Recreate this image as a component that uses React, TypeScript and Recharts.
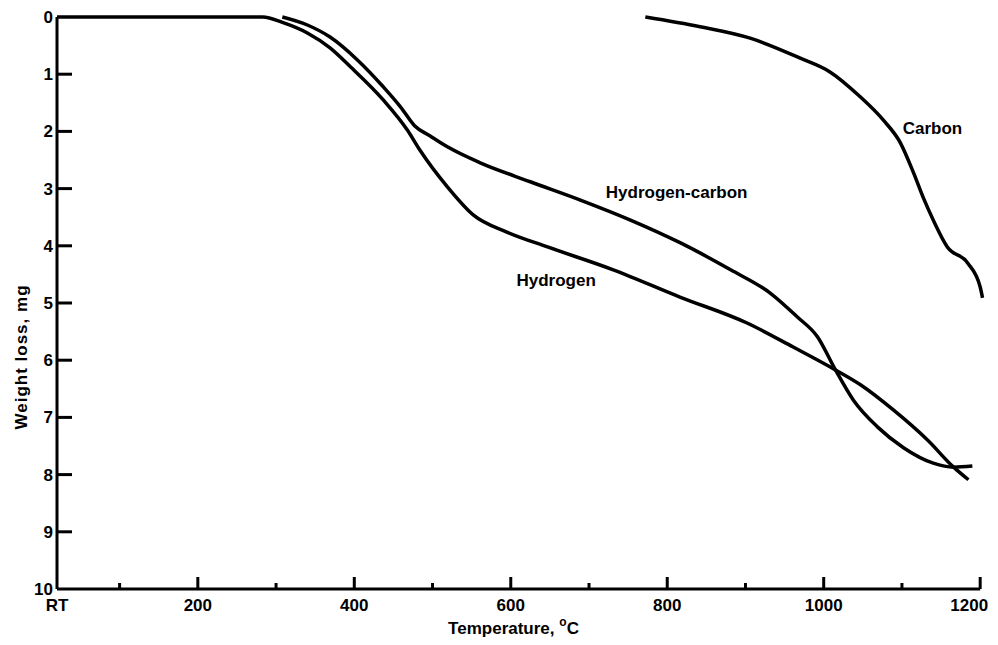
import { LineChart, Line, XAxis, YAxis, ReferenceLine, ReferenceDot, Label } from "recharts";

// temperature (°C) vs weight loss (mg)
const hydrogenTemp = [20, 283, 309, 340, 369, 395, 437, 468, 484, 519, 552, 595, 647, 731, 817, 902, 961, 1015, 1047, 1089, 1133, 1166, 1185];
const hydrogenLoss = [0, 0, 0.1, 0.28, 0.54, 0.87, 1.45, 1.98, 2.33, 2.97, 3.46, 3.76, 4.02, 4.42, 4.9, 5.35, 5.77, 6.17, 6.43, 6.87, 7.4, 7.87, 8.09];

const hcTemp = [308, 340, 369, 404, 437, 459, 477, 497, 519, 561, 625, 689, 753, 817, 881, 932, 966, 992, 1015, 1038, 1069, 1102, 1140, 1166, 1190];
const hcLoss = [0, 0.14, 0.35, 0.75, 1.22, 1.57, 1.9, 2.08, 2.27, 2.55, 2.88, 3.2, 3.55, 3.95, 4.42, 4.83, 5.24, 5.59, 6.17, 6.7, 7.17, 7.53, 7.8, 7.87, 7.85];

const carbonTemp = [772, 842, 906, 970, 1008, 1047, 1076, 1098, 1115, 1127, 1140, 1158, 1184, 1200, 1203];
const carbonLoss = [0, 0.17, 0.37, 0.72, 0.96, 1.4, 1.8, 2.2, 2.73, 3.15, 3.55, 4.02, 4.3, 4.72, 4.91];

const xTicks = [20, 100, 200, 300, 400, 500, 600, 700, 800, 900, 1000, 1100, 1200];
const yTicks = [0, 1, 2, 3, 4, 5, 6, 7, 8, 9, 10];

const curveLabels = ["Hydrogen", "Hydrogen-carbon", "Carbon"];
const labelTemp = [658, 812, 1139];
const labelLoss = [4.6, 3.06, 1.94];

const zip = (t: number[], w: number[]) => t.map((temp, i) => ({ temp, loss: w[i] }));
const hydrogen = zip(hydrogenTemp, hydrogenLoss);
const hydrogenCarbon = zip(hcTemp, hcLoss);
const carbon = zip(carbonTemp, carbonLoss);

const FONT = "'Liberation Sans', Arial, sans-serif";

const XTick = ({ x, y, payload }: any) => {
  const v = payload.value;
  const major = v % 200 === 0;
  const label = v === 20 ? "RT" : major ? String(v) : "";
  // last label would run off the page edge, pull it in
  const last = v === 1200;
  return (
    <g>
      {v !== 20 && (
        <line x1={x} x2={x} y1={y} y2={y - (major ? 12 : 6)} stroke="#000" strokeWidth={3} />
      )}
      {label && (
        <text
          x={last ? x + 8 : x}
          y={y + 22}
          textAnchor={last ? "end" : "middle"}
          fontFamily={FONT}
          fontWeight="bold"
          fontSize={17}
          fill="#000"
        >
          {label}
        </text>
      )}
    </g>
  );
};

const YTick = ({ x, y, payload }: any) => {
  const v = payload.value;
  return (
    <g>
      {v !== 0 && v !== 10 && <line x1={x} x2={x + 15} y1={y} y2={y} stroke="#000" strokeWidth={3} />}
      <text x={x - 4} y={y + 6} textAnchor="end" fontFamily={FONT} fontWeight="bold" fontSize={17} fill="#000">
        {v}
      </text>
    </g>
  );
};

const XTitle = ({ viewBox }: any) => (
  <text
    x={viewBox.x + viewBox.width / 2 - 9}
    y={viewBox.y + 45}
    textAnchor="middle"
    fontFamily={FONT}
    fontWeight="bold"
    fontSize={17}
    fill="#000"
  >
    Temperature,{" "}
    <tspan fontSize={12} dy={-8}>o</tspan>
    <tspan dy={8}>C</tspan>
  </text>
);

const YTitle = ({ viewBox }: any) => {
  const cx = viewBox.x + 13;
  const cy = viewBox.y + viewBox.height / 2 + 54;
  return (
    <text
      x={cx}
      y={cy}
      transform={`rotate(-90 ${cx} ${cy})`}
      textAnchor="middle"
      dominantBaseline="central"
      fontFamily={FONT}
      fontWeight="bold"
      fontSize={17}
      letterSpacing={1}
      fill="#000"
    >
      Weight loss, mg
    </text>
  );
};

export default function App() {
  return (
    <div style={{ width: 982, height: 629, background: "#fff" }}>
      <LineChart width={982} height={629} margin={{ top: 9, right: 2, bottom: 18, left: 0 }}>
        <XAxis
          type="number"
          dataKey="temp"
          domain={[20, 1210]}
          ticks={xTicks}
          interval={0}
          axisLine={false}
          tickLine={false}
          tickSize={0}
          tickMargin={0}
          tick={<XTick />}
          height={30}
          allowDuplicatedCategory={false}
        >
          <Label content={<XTitle />} />
        </XAxis>
        <YAxis
          type="number"
          domain={[0, 10]}
          reversed
          ticks={yTicks}
          interval={0}
          width={49}
          axisLine={{ stroke: "#000", strokeWidth: 3 }}
          tickLine={false}
          tickSize={0}
          tickMargin={0}
          tick={<YTick />}
        >
          <Label content={<YTitle />} />
        </YAxis>
        <ReferenceLine
          segment={[
            { x: 20, y: 10 },
            { x: 1200, y: 10 },
          ]}
          stroke="#000"
          strokeWidth={3}
        />
        <Line data={hydrogen} dataKey="loss" type="monotone" stroke="#000" strokeWidth={3.5} dot={false} isAnimationActive={false} />
        <Line data={hydrogenCarbon} dataKey="loss" type="monotone" stroke="#000" strokeWidth={3.5} dot={false} isAnimationActive={false} />
        <Line data={carbon} dataKey="loss" type="monotone" stroke="#000" strokeWidth={3.5} dot={false} isAnimationActive={false} />
        {curveLabels.map((name, i) => (
          <ReferenceDot
            key={name}
            x={labelTemp[i]}
            y={labelLoss[i]}
            r={0}
            fill="none"
            stroke="none"
            label={{ value: name, position: "center", fontFamily: FONT, fontWeight: "bold", fontSize: 17, fill: "#000" }}
          />
        ))}
      </LineChart>
    </div>
  );
}
